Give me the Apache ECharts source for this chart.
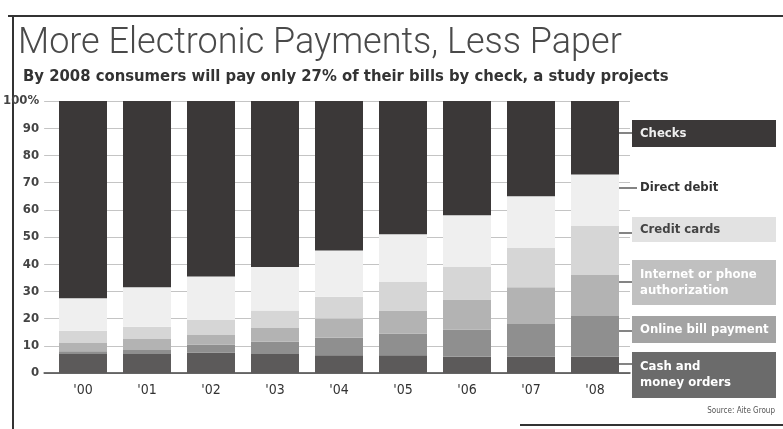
<!DOCTYPE html>
<html>
<head>
<meta charset="utf-8">
<script src="https://cdn.jsdelivr.net/npm/echarts@6/dist/echarts.min.js"></script>
<style>
html,body{margin:0;padding:0;background:#fff;}
#chart{width:783px;height:429px;}
</style>
</head>
<body>
<div id="chart"></div>
<script>
const years = ["'00", "'01", "'02", "'03", "'04", "'05", "'06", "'07", "'08"];
const cash     = [7,    7,    7.5, 7,   6.5, 6.5, 6,  6,    6];
const online   = [1,    1.5,  3,   4.5, 6.5, 8,   10, 12,   15];
const internet = [3,    4,    3.5, 5,   7,   8.5, 11, 13.5, 15];
const credit   = [4.5,  4.5,  5.5, 6.5, 8,   10.5,12, 14.5, 18];
const direct   = [12,   14.5, 16,  16,  17,  17.5,19, 19,   19];
const checks   = [72.5, 68.5, 64.5,61,  55,  49,  42, 35,   27];
const yTickLabels = ['0', '10', '20', '30', '40', '50', '60', '70', '80', '90', '100%'];
const seriesNames = ['Cash and money orders', 'Online bill payment', 'Internet or phone authorization', 'Credit cards', 'Direct debit', 'Checks'];
const legendLabels = ['Cash and\nmoney orders', 'Online bill payment', 'Internet or phone\nauthorization', 'Credit cards', 'Direct debit', 'Checks'];

const seriesData = [cash, online, internet, credit, direct, checks];
const colors = ['#5c5a5a', '#8f8f8f', '#b3b3b3', '#d6d6d6', '#efefef', '#3b3838'];

const chart = echarts.init(document.getElementById('chart'), null, {renderer: 'canvas'});
const narrow = '"Liberation Sans Narrow", "DejaVu Sans Condensed", "Liberation Sans", sans-serif';

// legend boxes (decoration)
const boxes = [
  {i: 5, y1: 120, y2: 147, fill: '#3b3838', text: '#eeeeee', line: 133},
  {i: 4, y1: null, y2: null, fill: null, text: '#333333', line: 188, cy: 188},
  {i: 3, y1: 217, y2: 242, fill: '#e2e2e2', text: '#444444', line: 233},
  {i: 2, y1: 260, y2: 305, fill: '#c0c0c0', text: '#ffffff', line: 282},
  {i: 1, y1: 316, y2: 343, fill: '#a3a3a3', text: '#ffffff', line: 331},
  {i: 0, y1: 352, y2: 398, fill: '#6b6b6b', text: '#ffffff', line: 364}
];
const graphics = [
  {type: 'line', shape: {x1: 8, y1: 16, x2: 783, y2: 16}, style: {stroke: '#333', lineWidth: 2}},
  {type: 'line', shape: {x1: 13, y1: 16, x2: 13, y2: 429}, style: {stroke: '#333', lineWidth: 2}},
  {type: 'line', shape: {x1: 520, y1: 425, x2: 783, y2: 425}, style: {stroke: '#333', lineWidth: 2}}
];
boxes.forEach(b => {
  const cy = b.y1 != null ? (b.y1 + b.y2) / 2 : b.cy;
  if (b.fill) {
    graphics.push({type: 'rect', shape: {x: 632, y: b.y1, width: 144, height: b.y2 - b.y1}, style: {fill: b.fill}});
  }
  graphics.push({type: 'line', shape: {x1: 619, y1: b.line, x2: b.fill ? 632 : 637, y2: b.line}, style: {stroke: '#333', lineWidth: 1.2}});
  graphics.push({type: 'text', x: 640, y: cy, style: {text: legendLabels[b.i], fill: b.text, font: 'bold 13px ' + narrow, textVerticalAlign: 'middle', lineHeight: 16}});
});
graphics.push({type: 'text', x: 775, y: 411, style: {text: 'Source: Aite Group', fill: '#555', font: '8px ' + narrow, textAlign: 'right', textVerticalAlign: 'middle'}});

const option = {
  backgroundColor: '#ffffff',
  animation: false,
  title: [
    {text: 'More Electronic Payments, Less Paper', left: 13, top: 21,
     textStyle: {fontFamily: 'Roboto, "Liberation Sans", sans-serif', fontWeight: 300, fontSize: 36, color: '#4a4a4a'}},
    {text: 'By 2008 consumers will pay only 27% of their bills by check, a study projects', left: 18, top: 63,
     textStyle: {fontFamily: narrow, fontWeight: 'bold', fontSize: 16.5, color: '#333'}}
  ],
  grid: [
    {left: 51, right: 156, top: 101, bottom: 56},
    {left: 40, right: 153, top: 101, bottom: 56}
  ],
  xAxis: [
    {type: 'category', gridIndex: 0, data: years,
     axisLine: {show: false}, axisTick: {show: false},
     axisLabel: {margin: 10, color: '#333', fontFamily: narrow, fontSize: 14}},
    {type: 'value', gridIndex: 1, min: 0, max: 1, show: true,
     axisLine: {show: true, lineStyle: {color: '#444', width: 1.5}},
     axisTick: {show: false}, axisLabel: {show: false}, splitLine: {show: false}}
  ],
  yAxis: [
    {type: 'value', gridIndex: 0, min: 0, max: 100, interval: 10, show: false},
    {type: 'value', gridIndex: 1, min: 0, max: 100, interval: 10,
     axisLine: {show: false}, axisTick: {show: false},
     splitLine: {show: true, lineStyle: {color: '#c4c4c4', width: 1}},
     axisLabel: {margin: 5, color: '#444', fontFamily: narrow, fontWeight: 'bold', fontSize: 13,
       formatter: (v, idx) => yTickLabels[idx]}}
  ],
  series: seriesData.map((d, k) => ({
    name: seriesNames[k], type: 'bar', stack: 'total', xAxisIndex: 0, yAxisIndex: 0,
    data: d, barWidth: 48, itemStyle: {color: colors[k]}
  })),
  graphic: graphics
};
chart.setOption(option);
</script>
</body>
</html>
